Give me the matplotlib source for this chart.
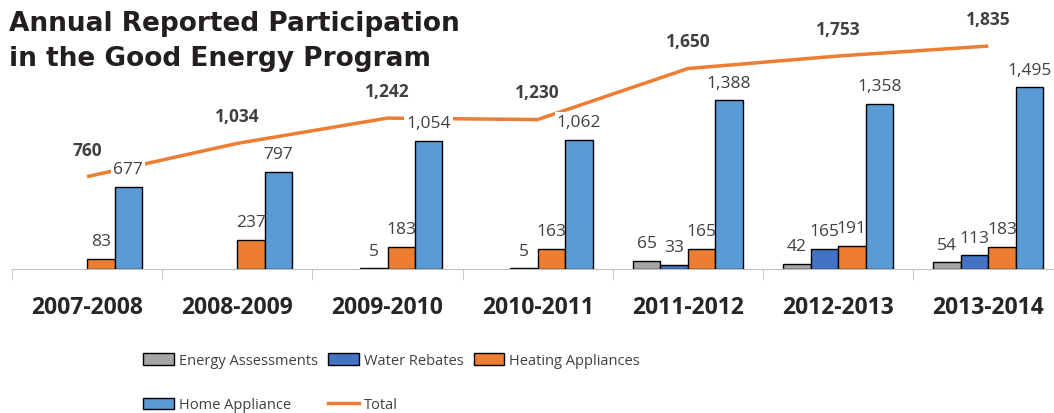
import numpy as np
import matplotlib.pyplot as plt
from matplotlib.patches import Patch
from matplotlib.lines import Line2D

categories = ['2007-2008', '2008-2009', '2009-2010', '2010-2011',
              '2011-2012', '2012-2013', '2013-2014']
energy_assessments = [np.nan, np.nan, np.nan, np.nan, 65, 42, 54]
water_rebates = [np.nan, np.nan, 5, 5, 33, 165, 113]
heating_appliances = [83, 237, 183, 163, 165, 191, 183]
home_appliance = [677, 797, 1054, 1062, 1388, 1358, 1495]
total = [760, 1034, 1242, 1230, 1650, 1753, 1835]

series = [
    ('Energy Assessments', energy_assessments, '#A5A5A5'),
    ('Water Rebates', water_rebates, '#4472C4'),
    ('Heating Appliances', heating_appliances, '#ED7D31'),
    ('Home Appliance', home_appliance, '#5B9BD5'),
]

plt.rcParams['font.family'] = ['Open Sans', 'DejaVu Sans']
txt = '#404040'

fig = plt.figure(figsize=(10.54, 4.14), dpi=100)
ax = fig.add_axes([12 / 1054, 144 / 414, 1 - 12 / 1054, 270 / 414])

x = np.arange(len(categories))
w = 0.183
for i, (name, vals, col) in enumerate(series):
    vals = np.array(vals, dtype=float)
    ok = ~np.isnan(vals)
    xs = x[ok] + (i - 1.5) * w
    ax.bar(xs, vals[ok], width=w, color=col, edgecolor='black', linewidth=1, zorder=2)
    for xx, v in zip(xs, vals[ok]):
        kw = {}
        if name == 'Home Appliance':
            kw['bbox'] = dict(fc='white', ec='none', pad=1.5)
        ax.annotate(f'{v:,.0f}', (xx, v), xytext=(0, 7), textcoords='offset points',
                    ha='center', va='bottom', fontsize=12.5, color=txt, zorder=5, **kw)

ax.plot(x, total, color='#ED7D31', lw=2.5, zorder=3, solid_capstyle='butt')
for xx, v in zip(x, total):
    ax.annotate(f'{v:,.0f}', (xx, v), xytext=(0, 13), textcoords='offset points',
                ha='center', va='bottom', fontsize=12.5, fontweight='bold', color=txt, zorder=5)

ax.set_xlim(-0.5, -0.5 + (1054 - 12) / 150.2)
ax.set_ylim(0, 270 / 0.1215)
for s in ['top', 'right', 'left']:
    ax.spines[s].set_visible(False)
ax.spines['bottom'].set_color('#BFBFBF')
ax.set_yticks([])
ax.set_xticks(x)
ax.set_xticklabels(categories, fontsize=16.5, fontweight='bold', color='#262626')
ax.tick_params(axis='x', which='major', length=0, pad=19)
ax.set_xticks(np.arange(len(categories)) - 0.5, minor=True)
ax.tick_params(axis='x', which='minor', length=8, color='#BFBFBF')

fig.text(9 / 1054, 1 - 11 / 414,
         'Annual Reported Participation\nin the Good Energy Program',
         family=['DejaVu Sans'], fontweight='bold', fontsize=19,
         color='#231F20', ha='left', va='top', linespacing=1.45)

h = {name: Patch(facecolor=col, edgecolor='black', label=name) for name, _, col in series}
line_h = Line2D([], [], color='#ED7D31', lw=2.5, label='Total')
handles = [h['Energy Assessments'], h['Home Appliance'], h['Water Rebates'], line_h,
           h['Heating Appliances']]
fig.legend(handles=handles, ncol=3, loc='upper left',
           bbox_to_anchor=(130 / 1054, 1 - 341 / 414), frameon=False,
           fontsize=10.5, labelcolor=txt, handlelength=2.1, handleheight=0.8,
           handletextpad=0.35, columnspacing=0.7, labelspacing=2.0)

fig.savefig('out.png', dpi=100)
